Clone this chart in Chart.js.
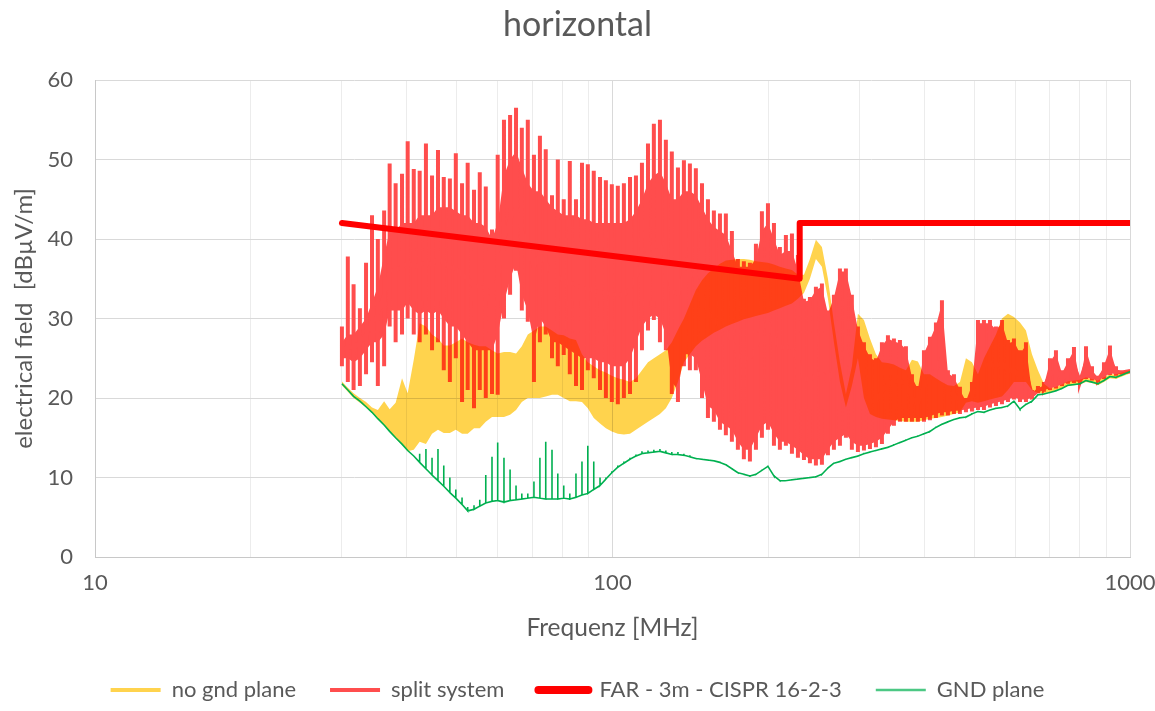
<!DOCTYPE html>
<html><head><meta charset="utf-8">
<script src="https://cdn.jsdelivr.net/npm/chart.js@4.4.0/dist/chart.umd.min.js"></script>
<style>html,body{margin:0;padding:0;background:#fff;}</style>
</head><body>
<canvas id="c" width="1155" height="711"></canvas>
<script>
// ---- data ----
const freqMHz = [30.0,30.8,31.6,32.5,33.4,34.3,35.2,36.2,37.1,38.1,
 39.2,40.2,41.3,42.4,43.6,44.8,46.0,47.2,48.5,49.8,
 51.2,52.5,54.0,55.4,56.9,58.5,60.0,61.7,63.4,65.1,
 66.8,68.6,70.5,72.4,74.3,76.4,78.4,80.5,82.7,85.0,
 87.3,89.6,92.0,94.6,97.1,99.7,102.4,105.2,108.1,111.0,
 114.0,117.1,120.2,123.5,126.8,130.2,133.8,137.4,141.1,144.9,
 148.9,152.9,157.0,161.3,165.6,170.1,174.7,179.4,184.3,189.3,
 194.4,199.7,205.1,210.6,216.3,222.2,228.2,234.4,240.7,247.2,
 253.9,260.8,267.8,275.1,282.5,290.1,298.0,306.1,314.4,322.9,
 331.6,340.6,349.8,359.3,369.0,379.0,389.2,399.8,410.6,421.7,
 433.1,444.8,456.9,469.2,481.9,495.0,508.4,522.1,536.3,550.8,
 565.7,581.0,596.7,612.9,629.4,646.5,663.9,681.9,700.4,719.3,
 738.8,758.8,779.3,800.4,822.1,844.4,867.2,890.6,914.7,939.5,
 964.9,990.7,1000];

// no gnd plane: upper / lower edge of the trace
const noGndHi = [22.1,21.3,20.6,20.0,19.5,18.8,18.5,19.6,18.6,19.4,
 22.5,20.6,24.8,29.4,29,28,27.5,26.6,26.6,27,
 27.5,27,26.7,26.5,26.5,26,25.6,25.8,25.8,25.6,
 26.5,28,28.5,29,29,28.5,28,27.9,27.5,27.3,
 25.5,24.5,24,23.5,23.2,22.8,22.5,22.3,22,22.5,
 23.5,24.5,25,25.5,26,27,28.6,30,31.8,33.6,
 34.8,35.7,36.3,36.9,37.3,37.4,37.5,37.5,37.4,37.2,
 37.1,37,36.8,36.5,36.3,36.1,35.5,35.5,37.5,39.9,
 39,35,29.5,24.5,20.5,24,30.6,29.8,27.5,25.5,
 24.5,24.4,24.2,23.8,23.5,24.8,24.6,23,23,22.5,
 22,21.6,21.5,22,25,24.5,23,25,26.5,28,
 30,30.6,30.2,29.5,28.5,25.5,23.5,21.8,21.2,21.4,
 21.7,22.1,22.2,22.3,22.6,22.4,22.2,22.6,23.0,23.0,
 23.2,23.4,23.5];
const noGndLo = [21.6,20.8,20.0,19.4,18.8,18.1,17.3,16.5,15.7,14.9,
 14.1,13.3,13.5,14.5,14.2,15.5,16,15.6,15.6,16,
 15.5,15.5,16.2,16.2,17,17.6,17.6,17.6,17.9,18.5,
 19.5,20,20,20,20.2,20.4,20.4,20,19.6,19.6,
 19.5,18.7,17.5,16.8,16.2,15.8,15.5,15.4,15.5,16,
 16.5,17,17.5,18,18.7,20,22,24.5,25.5,26.5,
 27.2,27.7,28.2,28.6,29,29.3,29.6,29.9,30.1,30.3,
 30.5,30.7,31,31.3,31.6,31.9,32.5,33.2,35,37.5,
 36.5,32.5,27,22,18.8,21.5,25,20,18,17.6,
 17.4,17.3,17.2,17.1,17,17,17,17.2,17.4,17.5,
 17.6,17.8,18,18.2,19.4,19.6,19.4,19.6,19.8,20,
 20.2,21,22,22,22,21,20.6,20.6,20.7,20.9,
 21.2,21.5,21.6,21.7,22.0,21.9,21.6,22.0,22.5,22.4,
 22.7,23.0,23.1];

// split system: spike tops / spike bottoms / solid core top / solid core bottom
const splitHi = [29,37.8,34.3,31.3,37,43,40,43.6,49.5,47,
 48.2,52.3,48.8,48.6,52,48,51.2,47.8,47.6,50.8,
 47,49.6,46.2,48.4,46.6,41.2,50.6,55,55.6,56.5,
 54,55,50.6,53,51.3,45.5,50,45,49.8,45,
 49.6,49.4,48.6,47.8,47.4,46.9,46.7,47,47.8,48,
 49.6,52,54.5,55,52.5,51,49,49.9,49.5,48.9,
 47,45,43.6,43.2,43.2,41,37.5,37.2,37,39.4,
 43.5,44.5,42,39,40.5,40.7,38,32.5,32.7,34,
 34.4,31,33,36.3,36.3,33,29,27,25.5,25,
 27,27.9,27.5,27.3,26.5,23,21.5,26,27.7,29.5,
 32.3,23.5,23,21.4,20,22,29.8,29.8,29.8,29,
 29.8,27.3,27.5,26,27,21,21.5,22,25,26,
 23.5,25,26.4,22.5,26.5,24,22.8,24.5,26.6,24,
 23.5,23.5,23.4];
const splitLo = [24,22,21,21.5,23,24.5,21.5,24,29,27,
 28,30,28,27,28,26,27,23.5,22,25,
 19.5,21,18.7,21,20,20.5,20.4,30,33,36,
 31,29.6,22,27,28,25,24,25.4,23,21.5,
 21,23.5,22.5,21,20,19.5,19.2,20,20.5,22,
 26,28.5,29.8,27,26,20.5,19.5,24,23.5,23.5,
 20,17.5,17,16,15.3,14.5,13.5,12.3,12,13.5,
 15,16,14,13.5,14,13,12.5,12.2,11.8,11.5,
 11.6,12.8,13.5,14,15,13.5,13.2,13.4,13.6,13.8,
 14.2,15.5,16.5,17,17,17,17,17,17.2,17.5,
 17.8,17.8,18,18,18.2,18.3,18.5,18.5,18.8,19,
 19.2,19.5,19.8,19.5,19.5,19.8,20.6,20.8,21,21.2,
 21.5,21.8,21.9,22,22.4,22.2,22,22.4,22.9,22.8,
 23,23.2,23.2];
const splitCoreTop = [27,28,28,29,30,32,34,38,41,41,
 42,42,42,43,43,43,44,44,44,43.5,
 43,43,42,42,41.5,40,42,48,50,51,
 49,47,46,46,45,44,43.5,43,43,43,
 42.5,42.5,42,42,42,42,42,42,42.5,43.5,
 45,47,48,48.5,47,45,45,46,46,45.5,
 44,42.5,41.5,41,40.5,38.5,36.5,36.5,36.5,37.5,
 41,42,40,38,38.5,38.5,36,32.1,32.3,33.6,
 34,30.6,32.6,35.9,35.9,32.6,28.6,26.6,25.1,24.6,
 26.6,27.5,27.1,26.9,26.1,22.6,21.1,25.6,27.3,29.1,
 31.9,23.1,22.6,21,19.6,21.6,29.4,29.4,29.4,28.6,
 29.4,26.9,27.1,25.6,26.6,20.6,21.1,21.6,24.6,25.6,
 23.1,24.6,26,22.1,26.1,23.6,22.4,24.1,26.2,23.6,
 23.3,23.4,23.3];
const splitCoreBot = [25,25,24.5,25,26,27,27,28,31,31,
 31,32,31,30.5,31,30.5,31,30,29,29,
 28,27,26,26,26,26,28,32,35,37,
 33,31,27,30,29,27,27,26.5,26,25.5,
 25,25,25,24.5,24.5,24,24,24,25,27,
 29,30,30.5,30,28,22,21,25.5,25.5,25,
 22,19,18.5,17,16.5,16,14.5,13.5,13.5,15,
 16.5,17,15.5,14.5,14.5,14,13.5,12.8,12.3,12.3,
 12.3,13.5,14.5,15,15.5,14.5,14,14,14.2,14.5,
 15,16,17,17.5,17.5,17.5,17.5,17.5,17.7,18,
 18.2,18.2,18.4,18.4,18.6,18.7,18.8,18.9,19.2,19.4,
 19.6,19.8,20.1,19.8,19.8,20,20.8,21,21.2,21.4,
 21.7,22,22.1,22.0,22.6,22.4,22.2,22.6,23.1,23,
 23.1,23.3,23.3];

// GND plane: spike tops / baseline
const gndHi = [21.8,21.0,20.2,19.6,18.9,18.2,17.4,16.6,15.8,15.0,
 14.2,13.4,12.7,13.0,13.6,12.5,13.6,11.5,10.0,8.5,
 7.5,6.3,6.5,7.2,10.3,12.6,14.4,12.5,11.0,9.0,
 8.0,8.0,9.5,12.5,14.5,13.5,10.5,9.0,8.0,10.5,
 12.0,14.0,12.0,10.0,10.0,10.8,11.5,12.0,12.5,12.9,
 13.3,13.4,13.5,13.6,13.4,13.2,13.2,13.0,12.8,12.5,
 12.4,12.3,12.2,12.0,11.7,11.2,10.7,10.5,10.3,10.5,
 11.0,11.5,10.3,9.7,9.7,9.8,9.9,10.0,10.1,10.2,
 10.5,11.3,11.9,12.1,12.4,12.6,12.8,13.1,13.3,13.5,
 13.7,13.9,14.2,14.5,14.8,15.1,15.3,15.6,15.9,16.4,
 16.8,17.1,17.4,17.6,17.7,18.1,18.4,18.3,18.6,18.8,
 18.9,19.1,19.7,18.7,19.3,19.7,20.5,20.6,20.8,21.0,
 21.3,21.7,21.8,21.9,22.3,22.1,21.9,22.3,22.8,22.7,
 23.0,23.3,23.4];
const gndLo = [21.8,21.0,20.2,19.6,18.9,18.2,17.4,16.6,15.8,15.0,
 14.2,13.4,12.7,11.9,11.1,10.3,9.6,8.9,8.1,7.4,
 6.6,5.8,6.0,6.4,6.8,7.0,7.1,6.9,7.1,7.2,
 7.3,7.4,7.5,7.4,7.3,7.3,7.3,7.4,7.3,7.5,
 7.8,8.0,8.5,9.0,9.8,10.6,11.3,11.8,12.3,12.7,
 13.0,13.1,13.2,13.3,13.1,12.9,12.9,12.8,12.6,12.4,
 12.3,12.2,12.1,11.9,11.6,11.1,10.6,10.4,10.2,10.4,
 10.9,11.4,10.2,9.6,9.6,9.7,9.8,9.9,10.0,10.1,
 10.4,11.2,11.8,12.0,12.3,12.5,12.7,13.0,13.2,13.4,
 13.6,13.8,14.1,14.4,14.7,15.0,15.2,15.5,15.8,16.3,
 16.7,17.0,17.3,17.5,17.6,18.0,18.3,18.2,18.5,18.7,
 18.8,19.0,19.6,18.6,19.2,19.6,20.4,20.5,20.7,20.9,
 21.2,21.6,21.7,21.8,22.2,22.0,21.8,22.2,22.7,22.6,
 22.9,23.2,23.3];

// FAR - 3m - CISPR 16-2-3 limit
const farFreq  = [30, 230, 230, 1000];
const farLevel = [42, 35, 42, 42];

const xGridValues = [10,20,30,40,50,60,70,80,90,100,200,300,400,500,600,700,800,900,1000];
const xTickLabels = ['10','100','1000'];
const seriesNames = ['no gnd plane','split system','FAR - 3m - CISPR 16-2-3','GND plane'];

// ---- build tables for the library ----
const pts = (xs, ys) => xs.map((f, i) => ({x: f, y: ys[i]}));
// each reading drawn as a vertical stroke from its low to its high value,
// strokes joined through the solid core of the band
function spikes(hi, lo, joinTop, joinBot) {
  const out = [];
  freqMHz.forEach((f, i) => {
    const j = joinTop ? (joinTop[i] + joinBot[i]) / 2 : lo[i];
    out.push({x: f, y: j}, {x: f, y: hi[i]}, {x: f, y: lo[i]}, {x: f, y: j});
  });
  return out;
}

const YELLOW = '#FFD34D', PINK = '#FF4D4D', RED = '#FF0000', GREEN = '#00B050';
const TXT = '#595959';
const FONT = 'Lato';
const LEGEND_H = 66;
const legendStyle = [
  {c: YELLOW, w: 4, cap: 'butt'},
  {c: PINK, w: 4, cap: 'butt'},
  {c: RED, w: 8, cap: 'round'},
  {c: 'rgba(0,176,80,0.7)', w: 2.5, cap: 'butt'}
];

const blend = {
  id: 'blend',
  afterDatasetDraw(chart, args) {
    if (args.index === 1) chart.ctx.globalCompositeOperation = 'multiply';
    if (args.index === 0) chart.ctx.globalCompositeOperation = 'source-over';
  }
};
const legendFix = {
  id: 'legendFix',
  beforeLayout(chart) {
    const L = chart.legend;
    if (L && !L._fixed) {
      const orig = L.fit;
      L.fit = function () { orig.call(this); this.height = LEGEND_H; };
      L._fixed = true;
    }
  }
};

const base = {pointRadius: 0, pointHoverRadius: 0, tension: 0, fill: false};

new Chart(document.getElementById('c'), {
  type: 'line',
  data: {
    datasets: [
      Object.assign({}, base, {label: seriesNames[0], data: pts(freqMHz, noGndHi), borderWidth: 0,
        borderColor: YELLOW, backgroundColor: YELLOW, fill: 4, order: 4}),
      Object.assign({}, base, {label: seriesNames[1], data: spikes(splitHi, splitLo, splitCoreTop, splitCoreBot),
        borderWidth: 4, borderColor: PINK, backgroundColor: PINK, order: 5}),
      Object.assign({}, base, {label: seriesNames[2], data: pts(farFreq, farLevel), borderWidth: 6,
        borderColor: RED, backgroundColor: RED, borderCapStyle: 'round', borderJoinStyle: 'round', order: 1}),
      Object.assign({}, base, {label: seriesNames[3], data: spikes(gndHi, gndLo), borderWidth: 1.6,
        borderColor: GREEN, backgroundColor: GREEN, order: 2}),
      Object.assign({}, base, {label: '_noGndLo', data: pts(freqMHz, noGndLo), borderWidth: 0,
        borderColor: YELLOW, backgroundColor: YELLOW, order: 3}),
      Object.assign({}, base, {label: '_coreTop', data: pts(freqMHz, splitCoreTop), borderWidth: 0,
        borderColor: PINK, backgroundColor: PINK, fill: 6, order: 7}),
      Object.assign({}, base, {label: '_coreBot', data: pts(freqMHz, splitCoreBot), borderWidth: 0,
        borderColor: PINK, backgroundColor: PINK, order: 6})
    ]
  },
  options: {
    responsive: false,
    animation: false,
    events: [],
    layout: {padding: {left: 0, right: 0, top: 0, bottom: 0}},
    plugins: {
      tooltip: {enabled: false},
      title: {
        display: true, text: 'horizontal', color: TXT,
        font: {family: FONT, size: 34, weight: 'normal'},
        padding: {top: 5, bottom: 34.2}
      },
      legend: {
        position: 'bottom',
        labels: {
          color: TXT, font: {family: FONT, size: 22},
          usePointStyle: true, pointStyle: 'line', pointStyleWidth: 50, padding: 34,
          generateLabels(chart) {
            const items = Chart.defaults.plugins.legend.labels.generateLabels(chart);
            return items.filter(it => it.datasetIndex < 4)
              .sort((a, b) => a.datasetIndex - b.datasetIndex)
              .map(it => {
                const s = legendStyle[it.datasetIndex];
                it.strokeStyle = s.c; it.fillStyle = s.c; it.lineWidth = s.w;
                it.lineCap = s.cap; it.pointStyle = 'line'; it.hidden = false;
                return it;
              });
          }
        }
      }
    },
    scales: {
      x: {
        type: 'logarithmic', min: 10, max: 1000,
        afterBuildTicks(scale) { scale.ticks = xGridValues.map(v => ({value: v})); },
        afterFit(scale) {
          scale.height = 711 - LEGEND_H - 557;
          scale.paddingRight = 25;
          scale.paddingLeft = 0;
        },
        ticks: {
          autoSkip: false, maxRotation: 0, padding: 13, color: TXT,
          font: {family: FONT, size: 22},
          callback: (v) => xTickLabels.includes(String(v)) ? String(v) : ''
        },
        grid: {
          drawTicks: false,
          color: (ctx) => (ctx.tick && xTickLabels.includes(String(ctx.tick.value))) ? '#d9d9d9' : '#ececec'
        },
        border: {display: true, color: '#c8c8c8'},
        title: {display: true, text: 'Frequenz [MHz]', color: TXT,
          font: {family: FONT, size: 24.5}, padding: {top: 0, bottom: 2}}
      },
      y: {
        min: 0, max: 60,
        afterFit(scale) { scale.width = 95; },
        ticks: {stepSize: 10, padding: 22, color: TXT, font: {family: FONT, size: 22}},
        grid: {drawTicks: false, color: '#d9d9d9'},
        border: {display: true, color: '#c8c8c8'},
        title: {display: true, text: 'electrical field  [dBµV/m]', color: TXT,
          font: {family: FONT, size: 24}, padding: {top: 10, bottom: 0}}
      }
    }
  },
  plugins: [blend, legendFix]
});
</script>
</body></html>
